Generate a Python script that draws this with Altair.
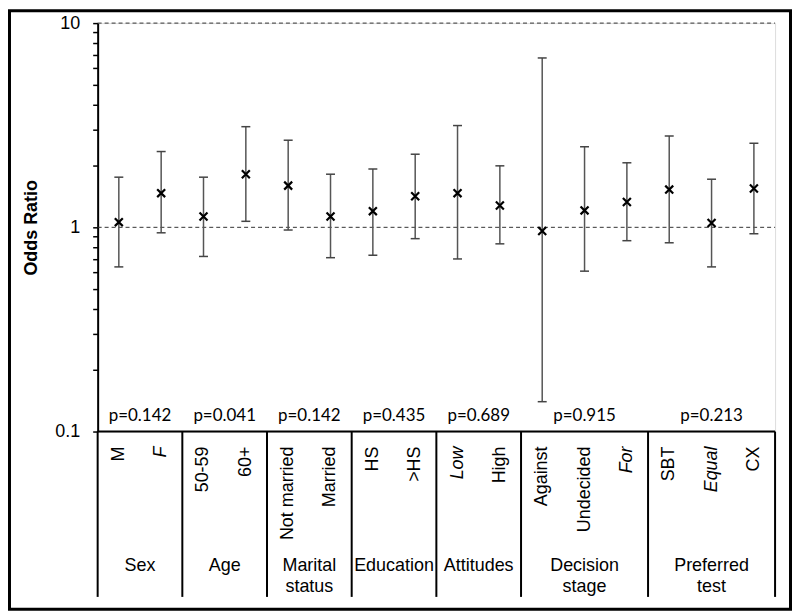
import altair as alt
import pandas as pd

# ---- data ----
categories = ["M", "F", "50-59", "60+", "Not married", "Married", "HS", ">HS",
              "Low", "High", "Against", "Undecided", "For", "SBT", "Equal", "CX"]
italic = [False, True, False, False, False, False, False, False,
          True, False, False, False, True, False, True, False]
odds = [1.06, 1.47, 1.13, 1.82, 1.60, 1.13, 1.20, 1.42,
        1.47, 1.28, 0.96, 1.21, 1.33, 1.53, 1.05, 1.55]
lower = [0.64, 0.94, 0.72, 1.07, 0.97, 0.71, 0.73, 0.88,
         0.70, 0.83, 0.14, 0.61, 0.86, 0.84, 0.64, 0.93]
upper = [1.76, 2.35, 1.76, 3.11, 2.67, 1.82, 1.93, 2.28,
         3.15, 2.00, 6.75, 2.48, 2.07, 2.80, 1.72, 2.58]
groups = ["Sex", "Age", "Marital\nstatus", "Education", "Attitudes",
          "Decision\nstage", "Preferred\ntest"]
group_sizes = [2, 2, 2, 2, 2, 3, 3]
pvalues = ["p=0.142", "p=0.041", "p=0.142", "p=0.435", "p=0.689", "p=0.915", "p=0.213"]
y_ticks = [0.1, 0.2, 0.3, 0.4, 0.5, 0.6, 0.7, 0.8, 0.9,
           1, 2, 3, 4, 5, 6, 7, 8, 9, 10]
ref_lines = [1, 10]

W, H = 680, 410
n = len(categories)
ARIAL = "Liberation Sans"

df = pd.DataFrame({
    "cat": categories,
    "pos": [i + 0.5 for i in range(n)],
    "or": odds,
    "lo": lower,
    "hi": upper,
    "it": italic,
})
bounds = [0]
for s in group_sizes:
    bounds.append(bounds[-1] + s)
gdf = pd.DataFrame({
    "group": groups,
    "center": [(bounds[i] + bounds[i + 1]) / 2 for i in range(len(groups))],
    "p": pvalues,
})
sdf = pd.DataFrame({"b": bounds})
rdf = pd.DataFrame({"v": ref_lines})
base_df = pd.DataFrame({"v": [0.1]})

xs = alt.Scale(domain=[0, n], nice=False, zero=False)
ys = alt.Scale(type="log", domain=[0.1, 10], nice=False)

yaxis = alt.Axis(
    values=y_ticks,
    labelExpr="datum.value == 10 ? '10' : datum.value == 1 ? '1' : (datum.value > 0.099 && datum.value < 0.101) ? '0.1' : ''",
    title="Odds Ratio", titleFont=ARIAL, titleFontSize=18, titleFontWeight="bold",
    titleColor="black", titleX=-66, titleY=H / 2, titleAngle=270,
    titleAlign="center", titleBaseline="middle",
    labelFont=ARIAL, labelFontSize=18, labelColor="black", labelPadding=13,
    tickSize=5, tickColor="black", tickWidth=1.5,
    domainColor="black", domainWidth=2, grid=False,
)

# dashed reference lines at 1 and 10
dashed = alt.Chart(rdf).mark_rule(color="#333333", strokeWidth=1, strokeDash=[4, 3]).encode(
    y=alt.Y("v:Q", scale=ys, axis=yaxis),
    x=alt.value(0), x2=alt.value(W),
)

# bottom axis line at 0.1
baseline = alt.Chart(base_df).mark_rule(color="black", strokeWidth=2).encode(
    y=alt.Y("v:Q", scale=ys),
    x=alt.value(0), x2=alt.value(W),
)

# error bars
bars = alt.Chart(df).mark_rule(color="#555555", strokeWidth=1.5).encode(
    x=alt.X("pos:Q", scale=xs, axis=None),
    y=alt.Y("lo:Q", scale=ys),
    y2="hi:Q",
)
cap_shape = "M-1,0L1,0"
cap_lo = alt.Chart(df).mark_point(shape=cap_shape, size=81, color="#444444",
                                  strokeWidth=1.5, filled=False, opacity=1).encode(
    x=alt.X("pos:Q", scale=xs), y=alt.Y("lo:Q", scale=ys))
cap_hi = alt.Chart(df).mark_point(shape=cap_shape, size=81, color="#444444",
                                  strokeWidth=1.5, filled=False, opacity=1).encode(
    x=alt.X("pos:Q", scale=xs), y=alt.Y("hi:Q", scale=ys))

# point estimates (x markers)
marks = alt.Chart(df).mark_point(shape="M-1,-1L1,1M-1,1L1,-1", size=64, color="black",
                                 strokeWidth=2.2, filled=False, opacity=1).encode(
    x=alt.X("pos:Q", scale=xs), y=alt.Y("or:Q", scale=ys))

# p-values
ptext = alt.Chart(gdf).mark_text(font="Lato", fontSize=17, color="black",
                                 baseline="middle", align="center").encode(
    x=alt.X("center:Q", scale=xs), y=alt.value(394), text="p:N")

# category labels (rotated)
lab_norm = alt.Chart(df).transform_filter("!datum.it").mark_text(
    font=ARIAL, fontSize=18, color="black", angle=270, align="right", baseline="middle"
).encode(x=alt.X("pos:Q", scale=xs), y=alt.value(425), text="cat:N")
lab_it = alt.Chart(df).transform_filter("datum.it").mark_text(
    font=ARIAL, fontSize=18, fontStyle="italic", color="black", angle=270,
    align="right", baseline="middle"
).encode(x=alt.X("pos:Q", scale=xs), y=alt.value(425), text="cat:N")

# group separators
seps = alt.Chart(sdf).mark_rule(color="black", strokeWidth=2).encode(
    x=alt.X("b:Q", scale=xs), y=alt.value(H), y2=alt.value(576))

# group labels
glab = alt.Chart(gdf).mark_text(font=ARIAL, fontSize=18, color="black", lineBreak="\n",
                                lineHeight=21, align="center", baseline="top").encode(
    x=alt.X("center:Q", scale=xs), y=alt.value(536), text="group:N")

# outer frame
frame = alt.Chart(base_df).mark_rect(fill=None, stroke="black", strokeWidth=3).encode(
    x=alt.value(-88.5), x2=alt.value(W + 15.5), y=alt.value(-12.5), y2=alt.value(588.5))

chart = alt.layer(
    dashed, baseline, bars, cap_lo, cap_hi, marks, ptext, lab_norm, lab_it, seps, glab, frame
).properties(
    width=W, height=H,
    autosize=alt.AutoSizeParams(type="none"),
    padding={"left": 90, "top": 14, "right": 17, "bottom": 180},
).configure_view(strokeWidth=0).configure(background="white")

chart.save("out.html", embed_options={"renderer": "svg", "actions": False})
